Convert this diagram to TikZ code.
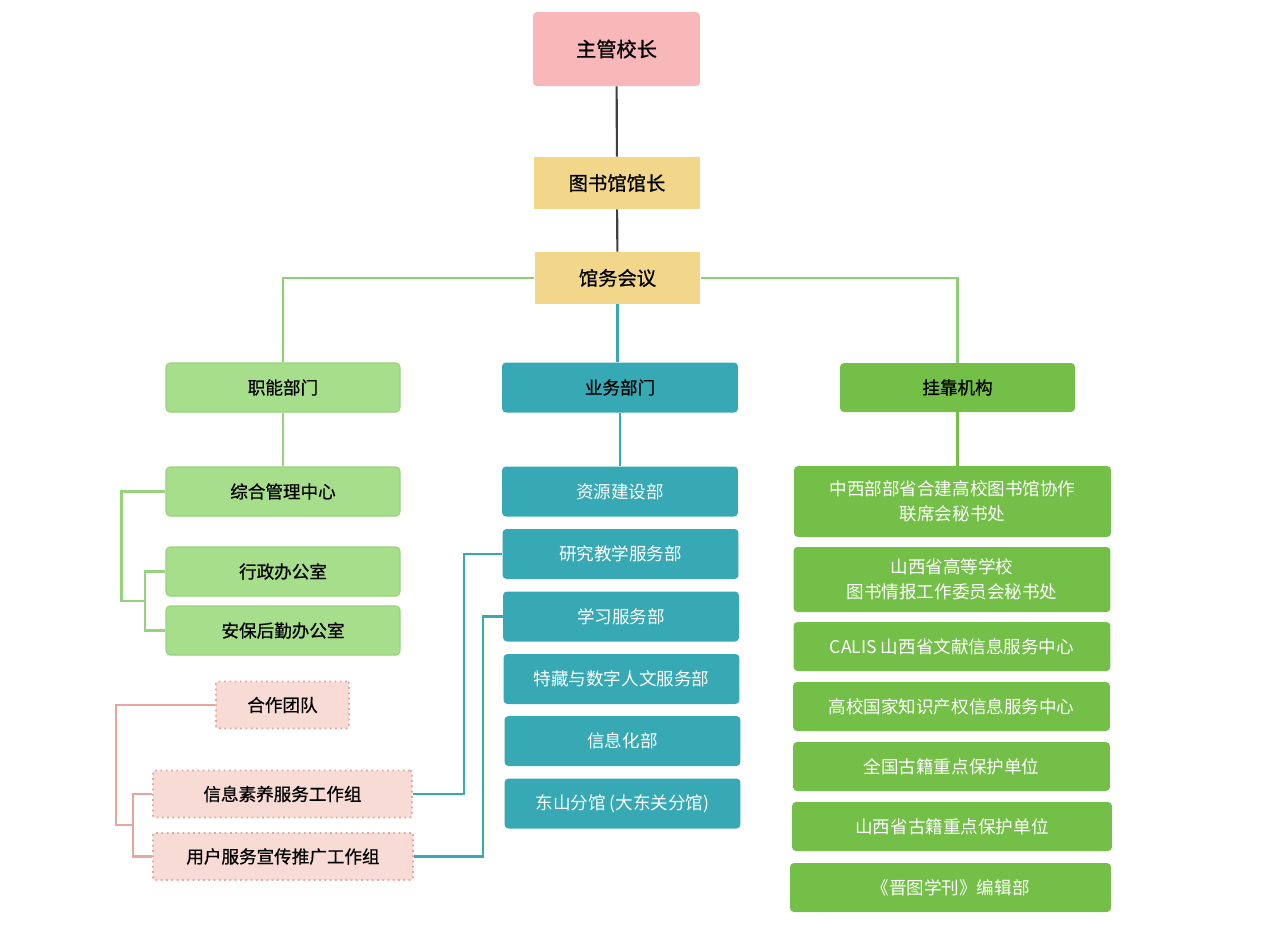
\documentclass[tikz,border=0pt]{standalone}
\usepackage{fontspec}
\setmainfont{Noto Sans CJK SC}
\newfontfamily\medfont{Noto Sans CJK SC}[FakeBold=0.8]
\usetikzlibrary{positioning}

\definecolor{headpink}{HTML}{F8B7B9}
\definecolor{chairyellow}{HTML}{F2D78A}
\definecolor{funcgreen}{HTML}{A7DE8C}
\definecolor{funcedge}{HTML}{98D27E}
\definecolor{busteal}{HTML}{37A9B5}
\definecolor{affgreen}{HTML}{73BF47}
\definecolor{teampink}{HTML}{F9DBD5}
\definecolor{teamedge}{HTML}{E6A69E}
\definecolor{linegray}{HTML}{3F3F3F}
\definecolor{linegreen}{HTML}{8BCF76}

\begin{document}
\begin{tikzpicture}[x=0.02cm,y=-0.02cm,
	box/.style={rectangle,rounded corners=0.08cm,align=center,inner sep=0pt,
		font=\fontsize{10}{14}\selectfont},
	head node/.style={box,fill=headpink,minimum width=3.34cm,minimum height=1.48cm,
		font=\medfont\fontsize{11.5}{14}\selectfont},
	chair node/.style={box,rounded corners=0pt,fill=chairyellow,minimum width=3.32cm,
		minimum height=1.04cm,font=\medfont\fontsize{11}{14}\selectfont},
	func node/.style={box,fill=funcgreen,draw=funcedge,line width=0.6pt,
		minimum width=4.68cm,minimum height=0.98cm,font=\medfont\fontsize{10}{14}\selectfont},
	bus node/.style={box,fill=busteal,text=white,minimum width=4.72cm,minimum height=1cm},
	aff node/.style={box,fill=affgreen,text=white,minimum width=6.34cm,minimum height=0.98cm},
	team node/.style={box,rounded corners=0.04cm,fill=teampink,draw=teamedge,dotted,
		line width=1pt,minimum height=0.94cm,font=\medfont\fontsize{10}{14}\selectfont},
	conn/.style={line width=1.2pt}]

	\useasboundingbox[fill=white] (0,0) rectangle (1264,948);

	% top of the tree
	\node[head node] (head) at (616.5,49) {主管校长};
	\node[chair node] (dir) at (617,183) {图书馆馆长};
	\node[chair node] (meet) at (617.5,278) {馆务会议};

	% three branches
	\node[func node] (func) at (283,387.5) {职能部门};
	\node[bus node,text=black,font=\medfont\fontsize{10}{14}\selectfont] (bus) at (620,387.5) {业务部门};
	\node[aff node,minimum width=4.7cm,text=black,font=\medfont\fontsize{10}{14}\selectfont] (aff) at (957.5,387.5) {挂靠机构};

	% functional offices
	\node[func node] (gen) at (283,491.5) {综合管理中心};
	\node[func node] (adm) at (283,571.5) {行政办公室};
	\node[func node] (sec) at (283,630.5) {安保后勤办公室};

	% teams
	\node[team node,minimum width=2.66cm] (coop) at (282.5,705) {合作团队};
	\node[team node,minimum width=5.18cm] (lit) at (282.5,794) {信息素养服务工作组};
	\node[team node,minimum width=5.2cm] (usr) at (283,856.5) {用户服务宣传推广工作组};

	% business departments
	\node[bus node] (res) at (620,491.5) {资源建设部};
	\node[bus node] (rsch) at (620.5,554) {研究教学服务部};
	\node[bus node] (lrn) at (621,616.5) {学习服务部};
	\node[bus node] (spec) at (621.5,679) {特藏与数字人文服务部};
	\node[bus node] (info) at (622.5,741) {信息化部};
	\node[bus node] (east) at (622.5,803.5) {东山分馆 (大东关分馆)};

	% affiliated bodies
	\node[aff node,minimum height=1.42cm] (mid) at (952.5,501.5) {中西部部省合建高校图书馆协作\\联席会秘书处};
	\node[aff node,minimum height=1.3cm] (prov) at (952,579.5) {山西省高等学校\\图书情报工作委员会秘书处};
	\node[aff node] (calis) at (952,646.5) {CALIS 山西省文献信息服务中心};
	\node[aff node] (ip) at (951.5,706.5) {高校国家知识产权信息服务中心};
	\node[aff node] (nat) at (951.5,766.5) {全国古籍重点保护单位};
	\node[aff node,minimum width=6.4cm] (sxa) at (952,826.5) {山西省古籍重点保护单位};
	\node[aff node,minimum width=6.42cm] (jour) at (950.5,887.5) {《晋图学刊》编辑部};

	% connectors
	\draw[conn,linegray] (head) -- (dir) (dir) -- (meet);
	\draw[conn,linegreen] (meet.west) -| (func.north);
	\draw[conn,linegreen] (meet.east) -| (aff.north);
	\draw[conn,busteal] (meet.south) -- (meet.south |- bus.north);

	\draw[conn,funcedge] (func) -- (gen);
	\coordinate (fbend) at (145,601);
	\draw[conn,funcedge] (adm.west) -| (fbend) |- (sec.west);
	\draw[conn,funcedge] (gen.west) -- ++(-44,0) |- (fbend);

	\coordinate (tbend) at (133,825);
	\draw[conn,teamedge] (lit.west) -| (tbend) |- (usr.west);
	\draw[conn,teamedge] (coop.west) -- ++(-99,0) |- (tbend);

	\draw[conn,busteal] (bus) -- (res);
	\draw[conn,busteal] (lit.east) -- ++(51,0) |- (rsch.west);
	\draw[conn,busteal] (usr.east) -- ++(69,0) |- (lrn.west);

	\draw[conn,affgreen] (aff.south) -- (aff.south |- mid.north);
\end{tikzpicture}
\end{document}
